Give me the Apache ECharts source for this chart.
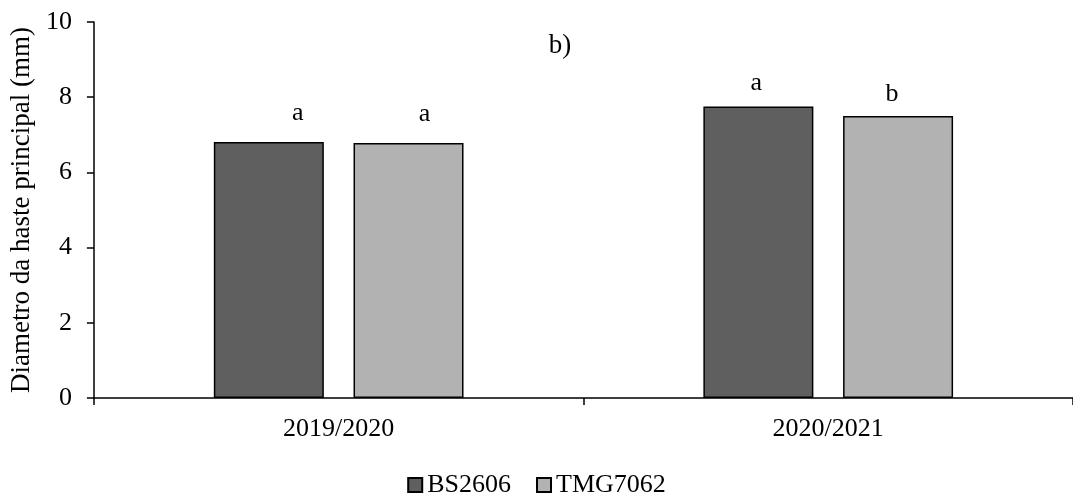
<!DOCTYPE html>
<html>
<head>
<meta charset="utf-8">
<script src="https://cdn.jsdelivr.net/npm/echarts@6/dist/echarts.min.js"></script>
<style>html,body{margin:0;padding:0;background:#fff;}#c{width:1073px;height:496px;}</style>
</head>
<body>
<div id="c"></div>
<script>
var categories = ['2019/2020', '2020/2021'];
var seriesNames = ['BS2606', 'TMG7062'];
var bs2606 = [6.81, 7.75];
var tmg7062 = [6.78, 7.50];
var bsLetters = ['a', 'a'];
var tmgLetters = ['a', 'b'];
var yTicks = [0, 2, 4, 6, 8, 10];
var panelTitle = 'b)';
var yName = 'Diametro da haste principal (mm)';

// label placement tweaks (styling only)
var bsLabelOffsets = [[29, -6], [-2, 0]];
var tmgLabelOffsets = [[16, -6], [-6, 1]];

var FONT = '"Liberation Serif", "DejaVu Serif", serif';

function makeData(vals, letters, offs) {
  return vals.map(function (v, i) {
    return { value: v, label: { formatter: letters[i], offset: offs[i] } };
  });
}

var chart = echarts.init(document.getElementById('c'), null, { renderer: 'canvas' });
chart.setOption({
  animation: false,
  backgroundColor: '#ffffff',
  textStyle: { fontFamily: FONT, color: '#000' },
  title: {
    text: panelTitle, left: 555, top: 27, textAlign: 'center',
    textStyle: { fontFamily: FONT, fontSize: 27, fontWeight: 'normal', color: '#000' }
  },
  legend: {
    bottom: -7, left: 'center',
    itemWidth: 14, itemHeight: 14, itemGap: 25,
    textStyle: { fontFamily: FONT, fontSize: 26, color: '#000', padding: [0, 0, 0, 0] },
    data: seriesNames.map(function (n) { return { name: n, icon: 'rect' }; })
  },
  grid: { left: 93, right: -3, top: 22, bottom: 98, containLabel: false },
  xAxis: {
    type: 'category', data: categories,
    axisLine: { lineStyle: { color: '#000', width: 1.5 } },
    axisTick: { show: true, length: 7, lineStyle: { color: '#000', width: 1.5 } },
    axisLabel: { fontFamily: FONT, fontSize: 26, color: '#000', margin: 18 }
  },
  yAxis: {
    type: 'value', min: yTicks[0], max: yTicks[yTicks.length - 1], interval: 2,
    name: yName, nameLocation: 'middle', nameGap: 57, nameRotate: 90,
    nameTextStyle: { fontFamily: FONT, fontSize: 27, color: '#000' },
    splitLine: { show: false },
    axisLine: { show: true, lineStyle: { color: '#000', width: 1.5 } },
    axisTick: { show: true, length: 7, lineStyle: { color: '#000', width: 1.5 } },
    axisLabel: { fontFamily: FONT, fontSize: 26, color: '#000', margin: 22 }
  },
  series: [
    {
      name: seriesNames[0], type: 'bar', barWidth: 110, barGap: '27%',
      itemStyle: { color: '#5f5f5f', borderColor: '#000', borderWidth: 1.5 },
      label: { show: true, position: 'top', distance: 10, fontFamily: FONT, fontSize: 26, color: '#000' },
      data: makeData(bs2606, bsLetters, bsLabelOffsets)
    },
    {
      name: seriesNames[1], type: 'bar', barWidth: 110, barGap: '27%',
      itemStyle: { color: '#b2b2b2', borderColor: '#000', borderWidth: 1.5 },
      label: { show: true, position: 'top', distance: 10, fontFamily: FONT, fontSize: 26, color: '#000' },
      data: makeData(tmg7062, tmgLetters, tmgLabelOffsets)
    }
  ]
});
</script>
</body>
</html>
